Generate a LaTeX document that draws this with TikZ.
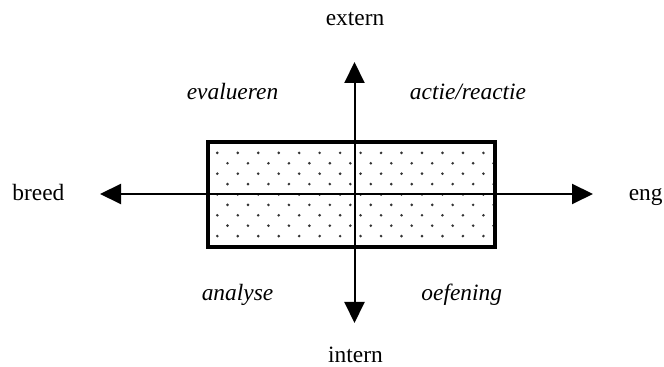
\documentclass[tikz,border=0pt]{standalone}
\usepackage{fontspec}
\setmainfont{Liberation Serif}
\usetikzlibrary{arrows.meta}
\begin{document}
\begin{tikzpicture}[x=0.5pt,y=-0.5pt,
  axisline/.style={line width=1pt,-{Triangle[length=10.5pt,width=10pt]}},
  boxshape/.style={draw,line width=2pt,inner sep=0pt,outer sep=0pt,minimum width=143.5pt,minimum height=52.5pt},
  lbl/.style={font=\fontsize{11.7pt}{14pt}\selectfont,inner sep=0pt,anchor=base},
  ilbl/.style={lbl,font=\fontsize{11.7pt}{14pt}\selectfont\itshape},
  dotc/.style={fill=black!80}]
\useasboundingbox (0,0) rectangle (664,367);
% dotted fill
\begin{scope}
\clip (207.5,142) rectangle (494.5,247);
\foreach \j in {0,...,10} {
  \pgfmathsetmacro\yy{142.5+10.4*\j}
  \pgfmathsetmacro\xo{mod(\j,2)==0 ? 227.5 : 217.3}
  \foreach \k in {-1,...,14} { \fill[dotc] (\xo+20.47*\k,\yy) circle[radius=1.45]; }
}
\end{scope}
\node[boxshape] (box) at (351,194.5) {};
\coordinate (c) at (354.5,194);
\coordinate (L) at (100,194);
\coordinate (R) at (593,194);
\coordinate (T) at (354.5,62);
\coordinate (B) at (354.5,323);
\draw[axisline] (c) -- (L);
\draw[axisline] (c) -- (R);
\draw[axisline] (c) -- (T);
\draw[axisline] (c) -- (B);
\node[lbl] (extern) at (355,26) {extern};
\node[lbl] (intern) at (355.5,363) {intern};
\node[lbl,anchor=base west] (breed) at (12,200.5) {breed};
\node[lbl,anchor=base east] (eng) at (663,200.5) {eng};
\node[ilbl] (eval) at (232.5,100) {evalueren};
\node[ilbl] (actie) at (468,100) {actie/reactie};
\node[ilbl] (analyse) at (237.5,301) {analyse};
\node[ilbl] (oef) at (461.7,301) {oefening};
\end{tikzpicture}
\end{document}
